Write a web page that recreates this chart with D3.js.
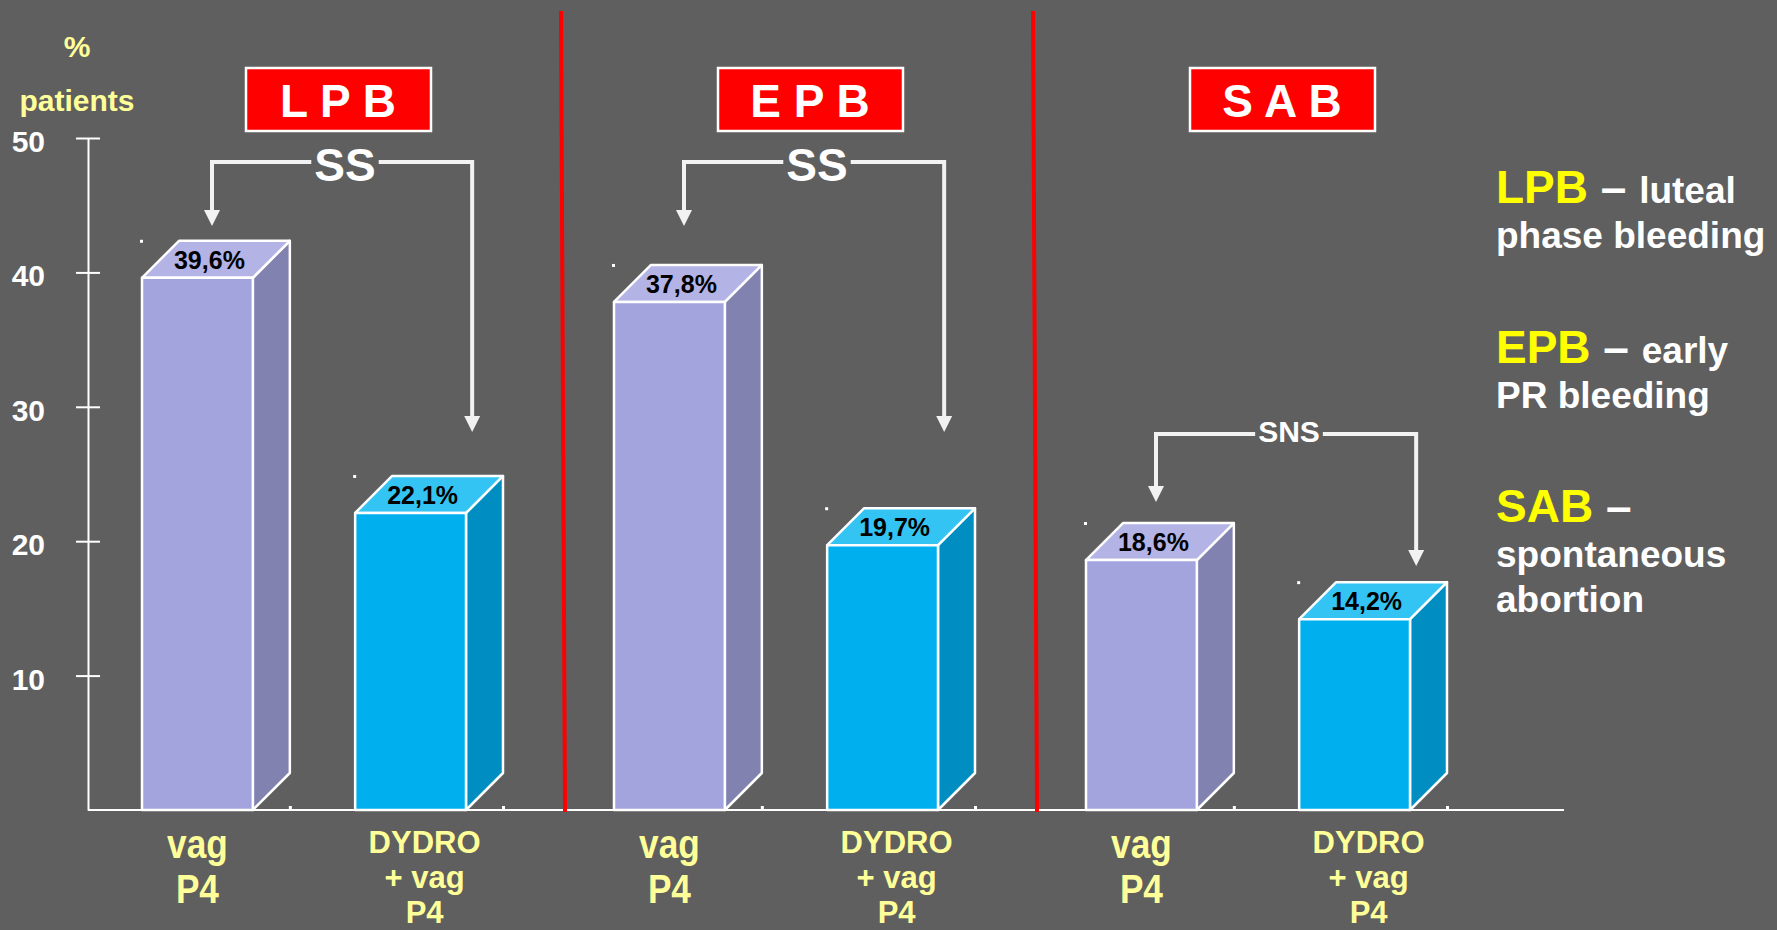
<!DOCTYPE html>
<html>
<head>
<meta charset="utf-8">
<script src="https://cdn.jsdelivr.net/npm/d3@7"></script>
<style>
html, body { margin: 0; padding: 0; background: #5f5f5f; }
svg { display: block; font-family: "Liberation Sans", Arial, sans-serif; font-weight: bold; }
</style>
</head>
<body>
<svg id="chart" width="1777" height="930"></svg>
<script>
// data
const groups = ["L P B", "E P B", "S A B"];
const series = ["vag P4", "DYDRO + vag P4"];
const vagP4 = [39.6, 37.8, 18.6];
const dydroVagP4 = [22.1, 19.7, 14.2];
const significance = ["SS", "SS", "SNS"];
const yTicks = [10, 20, 30, 40, 50];
const seriesLines = [["vag", "P4"], ["DYDRO", "+ vag", "P4"]];
const legendKeys = ["LPB", "EPB", "SAB"];
const legendFirst = ["luteal", "early", ""];
const legendRest = [["phase bleeding"], ["PR bleeding"], ["spontaneous", "abortion"]];

const seriesValues = [vagP4, dydroVagP4];

// layout
const baseY = 810,
    depth = 37;
const bg = "#5f5f5f";
const faceColors = [
    {front: "#a3a3de", side: "#8282b1", top: "#b3b3e6"},
    {front: "#00b0ee", side: "#008ec2", top: "#33c4f4"}
];
// category label styles: font size, horizontal squeeze, first baseline, line gap
const labelStyle = [
    {fs: 40, sx: 0.88, first: 858, gap: 45},
    {fs: 31, sx: 1, first: 853, gap: 35}
];
// bracket geometry per group (pixels)
const bracketY = [162, 162, 434],
    tipLeft = [226, 226, 502],
    tipRight = [432, 432, 566],
    bracketFont = [46, 46, 30],
    bracketDy = [19, 19, 8];

const svg = d3.select("#chart");
svg.append("rect").attr("width", 1777).attr("height", 930).attr("fill", bg);

const y = d3.scaleLinear().domain([0, 50]).range([baseY, 138]);
const x0 = d3.scaleBand().domain(groups).range([90, 1506]);
const x1 = d3.scaleBand().domain(series).range([52, 376]).paddingInner(0.48);

// y axis
const yAxis = svg.append("g")
    .attr("class", "y-axis")
    .attr("transform", "translate(88,0)")
    .call(d3.axisLeft(y)
        .tickValues(yTicks)
        .tickSize(12)
        .tickPadding(31)
        .tickSizeOuter(0));

yAxis.select(".domain").attr("stroke", "#fff").attr("stroke-width", 2);
yAxis.selectAll(".tick line")
    .attr("x1", -12).attr("x2", 12)
    .attr("stroke", "#fff").attr("stroke-width", 2);
yAxis.selectAll(".tick text")
    .attr("fill", "#fff")
    .attr("font-size", 30)
    .attr("font-family", "Liberation Sans, Arial, sans-serif")
    .attr("font-weight", "bold")
    .attr("dy", "0.45em");

// y axis title
svg.append("text").attr("x", 77).attr("y", 57).attr("text-anchor", "middle")
    .attr("fill", "#ffff99").attr("font-size", 30).text("%");
svg.append("text").attr("x", 77).attr("y", 111).attr("text-anchor", "middle")
    .attr("fill", "#ffff99").attr("font-size", 30).text("patients");

// x axis line
svg.append("line")
    .attr("x1", 88).attr("x2", 1564)
    .attr("y1", baseY).attr("y2", baseY)
    .attr("stroke", "#fff").attr("stroke-width", 2);

// bars
groups.forEach(function(g, i) {
    series.forEach(function(s, j) {
        const v = seriesValues[j][i];
        const left = x0(g) + x1(s),
            w = x1.bandwidth(),
            top = y(v),
            c = faceColors[j];
        const bar = svg.append("g").attr("class", "bar");

        bar.append("polygon")
            .attr("points", [[left + w, top], [left + w + depth, top - depth],
                [left + w + depth, baseY - depth], [left + w, baseY]].join(" "))
            .attr("fill", c.side);
        bar.append("polygon")
            .attr("points", [[left, top], [left + depth, top - depth],
                [left + w + depth, top - depth], [left + w, top]].join(" "))
            .attr("fill", c.top);
        bar.append("rect")
            .attr("x", left).attr("y", top)
            .attr("width", w).attr("height", baseY - top)
            .attr("fill", c.front);
        bar.selectAll("polygon, rect")
            .attr("stroke", "#fff").attr("stroke-width", 2.5)
            .attr("stroke-linejoin", "round");

        // little chart dots
        bar.append("rect").attr("x", left - 2).attr("y", top - depth - 1)
            .attr("width", 3).attr("height", 3).attr("fill", "#fff");
        bar.append("rect").attr("x", left + w + depth - 1).attr("y", baseY - 4)
            .attr("width", 3).attr("height", 3).attr("fill", "#fff");

        bar.append("text")
            .attr("x", left + w / 2 + 12)
            .attr("y", top - 9)
            .attr("text-anchor", "middle")
            .attr("font-size", 25)
            .attr("fill", "#000")
            .text(d3.format(".1f")(v).replace(".", ",") + "%");

        // category label, one text with a tspan per line
        const st = labelStyle[j];
        const lab = svg.append("g")
            .attr("transform", "translate(" + (left + w / 2 + (j === 0 ? 0 : 14)) + ",0) scale(" + st.sx + ",1)")
            .append("text")
            .attr("y", st.first)
            .attr("text-anchor", "middle")
            .attr("font-size", st.fs)
            .attr("fill", "#ffff99");
        seriesLines[j].forEach(function(t, k) {
            lab.append("tspan")
                .attr("x", 0)
                .attr("dy", k === 0 ? 0 : st.gap)
                .text(t);
        });
    });
});

// red separators
groups.slice(1).forEach(function(g) {
    const bx = x0(g);
    svg.append("line")
        .attr("x1", bx - 1).attr("x2", bx + 3)
        .attr("y1", 11).attr("y2", 812)
        .attr("stroke", "#ff0000").attr("stroke-width", 4);
});

// group header boxes
groups.forEach(function(g) {
    const cx = x0(g) + x0.bandwidth() / 2 + 12;
    svg.append("rect")
        .attr("x", cx - 92).attr("y", 68)
        .attr("width", 185).attr("height", 63)
        .attr("fill", "#ff0000")
        .attr("stroke", "#fff").attr("stroke-width", 2.5);
    svg.append("text")
        .attr("x", cx).attr("y", 117)
        .attr("text-anchor", "middle")
        .attr("font-size", 46)
        .attr("fill", "#fff")
        .attr("xml:space", "preserve")
        .text(g);
});

// significance brackets
groups.forEach(function(g, i) {
    const lx = x0(g) + x1(series[0]) + 70,
        rx = x0(g) + x1(series[1]) + 117,
        ly = bracketY[i],
        ah = 15;
    const br = svg.append("g").attr("class", "bracket");
    br.append("path")
        .attr("d", "M" + lx + "," + (tipLeft[i] - ah) + "V" + ly + "H" + rx + "V" + (tipRight[i] - ah))
        .attr("fill", "none")
        .attr("stroke", "#f2f2f2").attr("stroke-width", 4);
    [[lx, tipLeft[i]], [rx, tipRight[i]]].forEach(function(p) {
        br.append("polygon")
            .attr("points", [[p[0] - 8, p[1] - ah - 1], [p[0] + 8, p[1] - ah - 1], [p[0], p[1]]].join(" "))
            .attr("fill", "#f2f2f2");
    });
    const tx = x0(g) + 255;
    const bgRect = br.append("rect").attr("fill", bg);
    const t = br.append("text")
        .attr("x", tx).attr("y", ly + bracketDy[i])
        .attr("text-anchor", "middle")
        .attr("font-size", bracketFont[i])
        .attr("fill", "#fff")
        .text(significance[i]);
    const tw = t.node().getComputedTextLength();
    bgRect.attr("x", tx - tw / 2 - 3).attr("y", ly - 4)
        .attr("width", tw + 6).attr("height", 8);
});

// legend on the right
const legendTop = [203, 363, 522];
legendKeys.forEach(function(k, i) {
    const t = svg.append("text")
        .attr("x", 1496).attr("y", legendTop[i])
        .attr("xml:space", "preserve");
    t.append("tspan").attr("fill", "#ffff00").attr("font-size", 46).text(k);
    t.append("tspan").attr("fill", "#fff").attr("font-size", 46).text(" \u2013 ");
    t.append("tspan").attr("fill", "#fff").attr("font-size", 37).text(legendFirst[i]);
    legendRest[i].forEach(function(line, n) {
        svg.append("text")
            .attr("x", 1496).attr("y", legendTop[i] + 45 * (n + 1))
            .attr("fill", "#fff").attr("font-size", 37)
            .text(line);
    });
});
</script>
</body>
</html>
